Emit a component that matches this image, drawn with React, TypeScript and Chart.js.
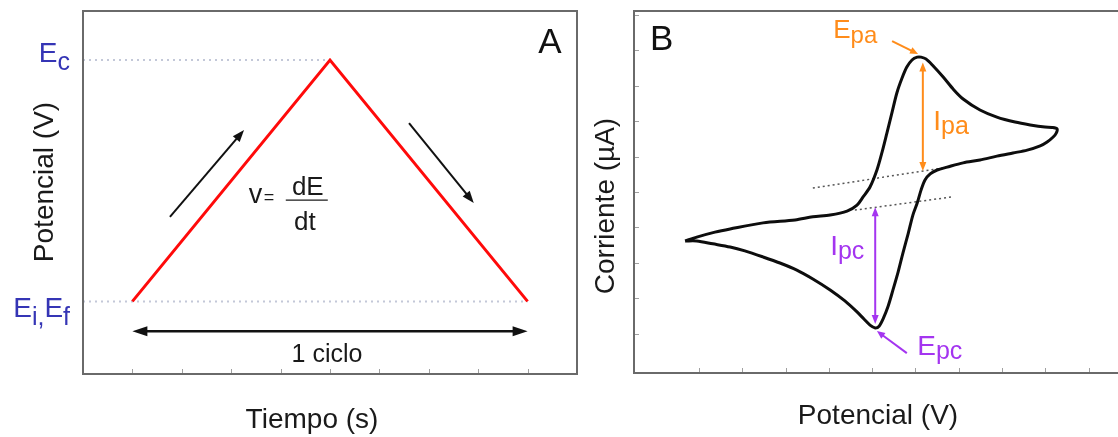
import React, { useEffect, useRef } from "react";
import { Chart, registerables } from "chart.js";

Chart.register(...registerables);

// ---------------- Panel A data (potential vs time) ----------------
const timeTicks = [1, 2, 3, 4, 5, 6, 7, 8, 9];
const sweepTime = [1, 5, 9];
const sweepPotential = [2, 8.65, 2];
const levelEc = 8.65;
const levelEi = 2;

// ---------------- Panel B data (cyclic voltammogram) ----------------
const potentialTicks = [-0.2, -0.1, 0, 0.1, 0.2, 0.3, 0.4, 0.5, 0.6, 0.7];
const currentTicks = [-50, -40, -30, -20, -10, 0, 10, 20, 30, 40];

const cvPotential = [
  -0.232, -0.205, -0.163, -0.128, -0.052, 0.022, 0.063, 0.103, 0.142, 0.165,
  0.179, 0.195, 0.211, 0.223, 0.234, 0.246, 0.257, 0.269, 0.28, 0.292,
  0.304, 0.313, 0.324, 0.341, 0.364, 0.387, 0.41, 0.449, 0.488, 0.53,
  0.565, 0.599, 0.615, 0.627,
  0.625, 0.618, 0.604, 0.588, 0.558, 0.525, 0.488, 0.449, 0.41, 0.373,
  0.35, 0.334, 0.322, 0.313, 0.304, 0.294, 0.283, 0.271, 0.26, 0.248,
  0.237, 0.225, 0.216, 0.207, 0.195, 0.181, 0.165, 0.137, 0.103, 0.063,
  0.026, -0.013, -0.052, -0.094, -0.128, -0.168, -0.205, -0.232,
];
const cvCurrent = [
  -23.8, -22.7, -21.3, -20.4, -18.7, -17.9, -17.0, -16.5, -15.4, -13.7,
  -11.4, -8.6, -3.8, 1.3, 6.6, 12.5, 17.9, 22.1, 25.2, 27.2,
  28.0, 28.0, 27.5, 25.5, 22.4, 19.0, 16.2, 13.1, 11.1, 9.7,
  8.9, 8.3, 8.2, 7.8,
  6.6, 5.5, 4.1, 3.0, 1.8, 1.0, 0.1, -1.0, -1.8, -3.0,
  -3.8, -4.9, -6.6, -9.4, -13.1, -16.5, -21.8, -27.2, -32.5, -37.6,
  -42.1, -45.8, -47.8, -48.3, -47.5, -45.8, -43.8, -40.7, -37.6, -34.5,
  -32.0, -30.0, -28.3, -26.6, -25.5, -24.6, -23.8, -23.8,
];

const baselineUpperE = [0.063, 0.375];
const baselineUpperI = [-8.9, -3.0];
const baselineLowerE = [0.16, 0.384];
const baselineLowerI = [-15.1, -11.4];

const anodicPeakE = 0.317;
const anodicSpan = [-4.1, 26.5];
const cathodicPeakE = 0.207;
const cathodicSpan = [-14.3, -47.2];

// ---------------- styling / annotation placement ----------------
const FONT = '"Liberation Sans", Arial, Helvetica, sans-serif';
const ORANGE = "#ff8c1a";
const PURPLE = "#a435f0";
const BLUE = "#3535b5";
const TEXT = "#1a1a1a";

type Part = { t: string; size: number; dy?: number };

function drawRich(
  ctx: CanvasRenderingContext2D,
  parts: Part[],
  x: number,
  y: number,
  align: "left" | "right" | "center",
  color: string
) {
  ctx.fillStyle = color;
  ctx.textBaseline = "alphabetic";
  ctx.textAlign = "left";
  const widths = parts.map((p) => {
    ctx.font = `${p.size}px ${FONT}`;
    return ctx.measureText(p.t).width;
  });
  const total = widths.reduce((s, w) => s + w, 0);
  let cx = align === "left" ? x : align === "right" ? x - total : x - total / 2;
  parts.forEach((p, i) => {
    ctx.font = `${p.size}px ${FONT}`;
    ctx.fillText(p.t, cx, y + (p.dy || 0));
    cx += widths[i];
  });
}

function arrowHead(
  ctx: CanvasRenderingContext2D,
  x1: number,
  y1: number,
  x2: number,
  y2: number,
  len: number,
  hw: number
) {
  const a = Math.atan2(y2 - y1, x2 - x1);
  const bx = x2 - len * Math.cos(a);
  const by = y2 - len * Math.sin(a);
  ctx.beginPath();
  ctx.moveTo(x2, y2);
  ctx.lineTo(bx + hw * Math.sin(a), by - hw * Math.cos(a));
  ctx.lineTo(bx - hw * Math.sin(a), by + hw * Math.cos(a));
  ctx.closePath();
  ctx.fill();
}

function arrow(
  ctx: CanvasRenderingContext2D,
  x1: number,
  y1: number,
  x2: number,
  y2: number,
  color: string,
  width: number,
  len: number,
  hw: number,
  both: boolean
) {
  const a = Math.atan2(y2 - y1, x2 - x1);
  ctx.strokeStyle = color;
  ctx.fillStyle = color;
  ctx.lineWidth = width;
  ctx.setLineDash([]);
  const sx = both ? x1 + (len - 1) * Math.cos(a) : x1;
  const sy = both ? y1 + (len - 1) * Math.sin(a) : y1;
  const ex = x2 - (len - 1) * Math.cos(a);
  const ey = y2 - (len - 1) * Math.sin(a);
  ctx.beginPath();
  ctx.moveTo(sx, sy);
  ctx.lineTo(ex, ey);
  ctx.stroke();
  arrowHead(ctx, x1, y1, x2, y2, len, hw);
  if (both) arrowHead(ctx, x2, y2, x1, y1, len, hw);
}

function frame(ctx: CanvasRenderingContext2D, a: any) {
  ctx.strokeStyle = "#6a6a6a";
  ctx.lineWidth = 2;
  ctx.setLineDash([]);
  ctx.strokeRect(a.left, a.top, a.right - a.left, a.bottom - a.top);
}

const panelAPlugin = {
  id: "panelA",
  afterDraw(chart: any) {
    const { ctx, chartArea: a } = chart;
    const x = chart.scales.x;
    const y = chart.scales.y;
    ctx.save();
    frame(ctx, a);
    ctx.strokeStyle = "#a0a0a0";
    ctx.lineWidth = 1;
    timeTicks.forEach((t) => {
      const px = Math.round(x.getPixelForValue(t)) + 0.5;
      ctx.beginPath();
      ctx.moveTo(px, a.bottom - 1);
      ctx.lineTo(px, a.bottom - 5);
      ctx.stroke();
    });

    // level labels
    const yEc = y.getPixelForValue(levelEc);
    const yEi = y.getPixelForValue(levelEi);
    drawRich(ctx, [{ t: "E", size: 28 }, { t: "c", size: 25, dy: 8 }], 70, yEc + 2, "right", BLUE);
    drawRich(
      ctx,
      [
        { t: "E", size: 28 },
        { t: "i,", size: 25, dy: 8 },
        { t: "E", size: 28 },
        { t: "f", size: 25, dy: 8 },
      ],
      70,
      yEi + 16,
      "right",
      BLUE
    );

    // scan-direction arrows
    arrow(ctx, x.getPixelForValue(1.76), y.getPixelForValue(4.33), x.getPixelForValue(3.26), y.getPixelForValue(6.72), "#111", 2, 12, 4.5, false);
    arrow(ctx, x.getPixelForValue(6.6), y.getPixelForValue(6.91), x.getPixelForValue(7.91), y.getPixelForValue(4.71), "#111", 2, 12, 4.5, false);

    // one-cycle arrow
    const yc = y.getPixelForValue(1.18);
    arrow(ctx, x.getPixelForValue(1), yc, x.getPixelForValue(9), yc, "#111", 2.5, 15, 5, true);
    ctx.fillStyle = TEXT;
    ctx.font = `25px ${FONT}`;
    ctx.textAlign = "center";
    ctx.textBaseline = "alphabetic";
    ctx.fillText("1 ciclo", x.getPixelForValue(4.94), y.getPixelForValue(0.33));

    // v = dE/dt
    const cx = x.getPixelForValue(4.53);
    const by = y.getPixelForValue(4.79);
    ctx.strokeStyle = TEXT;
    ctx.lineWidth = 1.2;
    ctx.beginPath();
    ctx.moveTo(cx - 21, by);
    ctx.lineTo(cx + 21, by);
    ctx.stroke();
    ctx.fillStyle = TEXT;
    ctx.font = `26px ${FONT}`;
    ctx.textAlign = "center";
    ctx.fillText("dE", cx + 1, by - 5);
    ctx.fillText("dt", cx - 2, by + 30);
    ctx.font = `27px ${FONT}`;
    ctx.textAlign = "left";
    ctx.fillText("v", cx - 58, by + 3);
    ctx.font = `18px ${FONT}`;
    ctx.fillText("=", cx - 43, by + 3);

    // panel letter
    ctx.font = `35px ${FONT}`;
    ctx.textAlign = "center";
    ctx.fillStyle = "#111";
    ctx.fillText("A", x.getPixelForValue(9.45), y.getPixelForValue(8.84));

    // axis titles
    ctx.font = `28px ${FONT}`;
    ctx.fillStyle = TEXT;
    ctx.textAlign = "center";
    ctx.textBaseline = "middle";
    ctx.fillText("Tiempo (s)", 312, 420);
    ctx.save();
    ctx.translate(45, 182);
    ctx.rotate(-Math.PI / 2);
    ctx.fillText("Potencial (V)", 0, 0);
    ctx.restore();
    ctx.restore();
  },
};

const panelBPlugin = {
  id: "panelB",
  afterDraw(chart: any) {
    const { ctx, chartArea: a } = chart;
    const x = chart.scales.x;
    const y = chart.scales.y;
    const P = (e: number, i: number) => [x.getPixelForValue(e), y.getPixelForValue(i)];
    ctx.save();
    frame(ctx, a);
    ctx.strokeStyle = "#a0a0a0";
    ctx.lineWidth = 1;
    potentialTicks.forEach((t) => {
      const px = Math.round(x.getPixelForValue(t)) + 0.5;
      ctx.beginPath();
      ctx.moveTo(px, a.bottom - 1);
      ctx.lineTo(px, a.bottom - 5);
      ctx.stroke();
    });
    currentTicks.forEach((t) => {
      const py = Math.round(y.getPixelForValue(t)) + 0.5;
      ctx.beginPath();
      ctx.moveTo(a.left + 1, py);
      ctx.lineTo(a.left + 5, py);
      ctx.stroke();
    });

    // panel letter
    ctx.fillStyle = "#111";
    ctx.font = `35px ${FONT}`;
    ctx.textAlign = "left";
    ctx.textBaseline = "alphabetic";
    const [bx, byy] = P(-0.313, 30.0);
    ctx.fillText("B", bx, byy);

    // anodic annotations
    let p1 = P(0.246, 32.5);
    let p2 = P(0.306, 28.9);
    arrow(ctx, p1[0], p1[1], p2[0], p2[1], ORANGE, 2, 8, 3.5, false);
    const [ex, ey] = P(0.11, 33.4);
    drawRich(ctx, [{ t: "E", size: 26 }, { t: "pa", size: 24, dy: 5 }], ex, ey, "left", ORANGE);
    p1 = P(anodicPeakE, anodicSpan[0]);
    p2 = P(anodicPeakE, anodicSpan[1]);
    arrow(ctx, p1[0], p1[1], p2[0], p2[1], ORANGE, 2, 9, 3.5, true);
    const [ix, iy] = P(0.341, 7.5);
    drawRich(ctx, [{ t: "I", size: 28 }, { t: "pa", size: 25, dy: 4 }], ix, iy, "left", ORANGE);

    // cathodic annotations
    p1 = P(cathodicPeakE, cathodicSpan[0]);
    p2 = P(cathodicPeakE, cathodicSpan[1]);
    arrow(ctx, p1[0], p1[1], p2[0], p2[1], PURPLE, 2, 9, 3.5, true);
    const [cx, cy] = P(0.103, -27.8);
    drawRich(ctx, [{ t: "I", size: 28 }, { t: "pc", size: 25, dy: 4 }], cx, cy, "left", PURPLE);
    p1 = P(0.28, -55.4);
    p2 = P(0.211, -49.2);
    arrow(ctx, p1[0], p1[1], p2[0], p2[1], PURPLE, 2, 8, 3.5, false);
    const [dx, dy] = P(0.304, -55.9);
    drawRich(ctx, [{ t: "E", size: 28 }, { t: "pc", size: 25, dy: 4 }], dx, dy, "left", PURPLE);

    // axis titles
    ctx.font = `28px ${FONT}`;
    ctx.fillStyle = TEXT;
    ctx.textAlign = "center";
    ctx.textBaseline = "middle";
    ctx.fillText("Potencial (V)", 288, 416);
    ctx.save();
    ctx.translate(16, 206);
    ctx.rotate(-Math.PI / 2);
    ctx.fillText("Corriente (\u00b5A)", 0, 0);
    ctx.restore();
    ctx.restore();
  },
};

const baseOptions = {
  responsive: false,
  animation: false as const,
  devicePixelRatio: 1,
  events: [] as any[],
  plugins: { legend: { display: false }, tooltip: { enabled: false } },
};

export default function App() {
  const refA = useRef<HTMLCanvasElement>(null);
  const refB = useRef<HTMLCanvasElement>(null);

  useEffect(() => {
    const chartA = new Chart(refA.current as HTMLCanvasElement, {
      type: "scatter",
      data: {
        datasets: [
          {
            data: sweepTime.map((t, i) => ({ x: t, y: sweepPotential[i] })),
            showLine: true,
            borderColor: "#ff0a0a",
            borderWidth: 3,
            pointRadius: 0,
          },
          {
            data: [
              { x: 0, y: levelEc },
              { x: sweepTime[1], y: levelEc },
            ],
            showLine: true,
            borderColor: "#c3c8d8",
            borderWidth: 2,
            borderDash: [2, 4],
            pointRadius: 0,
          },
          {
            data: [
              { x: 0, y: levelEi },
              { x: sweepTime[2], y: levelEi },
            ],
            showLine: true,
            borderColor: "#c3c8d8",
            borderWidth: 2,
            borderDash: [2, 4],
            pointRadius: 0,
          },
        ],
      },
      options: {
        ...baseOptions,
        layout: { padding: { left: 83, right: 18, top: 11, bottom: 63 } },
        scales: {
          x: { type: "linear", min: 0, max: 10, display: false },
          y: { type: "linear", min: 0, max: 10, display: false },
        },
      } as any,
      plugins: [panelAPlugin],
    });

    const chartB = new Chart(refB.current as HTMLCanvasElement, {
      type: "scatter",
      data: {
        datasets: [
          {
            data: cvPotential.map((e, i) => ({ x: e, y: cvCurrent[i] })),
            showLine: true,
            borderColor: "#0d0d0d",
            borderWidth: 3,
            tension: 0.3,
            pointRadius: 0,
          },
          {
            data: baselineUpperE.map((e, i) => ({ x: e, y: baselineUpperI[i] })),
            showLine: true,
            borderColor: "#555",
            borderWidth: 1.5,
            borderDash: [2, 3],
            pointRadius: 0,
          },
          {
            data: baselineLowerE.map((e, i) => ({ x: e, y: baselineLowerI[i] })),
            showLine: true,
            borderColor: "#555",
            borderWidth: 1.5,
            borderDash: [2, 3],
            pointRadius: 0,
          },
        ],
      },
      options: {
        ...baseOptions,
        layout: { padding: { left: 44, right: 18, top: 11, bottom: 64 } },
        scales: {
          x: { type: "linear", min: -0.35, max: 0.8, display: false },
          y: { type: "linear", min: -61, max: 41, display: false },
        },
      } as any,
      plugins: [panelBPlugin],
    });

    return () => {
      chartA.destroy();
      chartB.destroy();
    };
  }, []);

  return (
    <div
      style={{
        position: "fixed",
        left: 0,
        top: 0,
        width: 1118,
        height: 437,
        overflow: "hidden",
        background: "#fff",
      }}
    >
      <canvas ref={refA} width={595} height={437} style={{ position: "absolute", left: 0, top: 0 }} />
      <canvas ref={refB} width={560} height={437} style={{ position: "absolute", left: 590, top: 0 }} />
    </div>
  );
}
